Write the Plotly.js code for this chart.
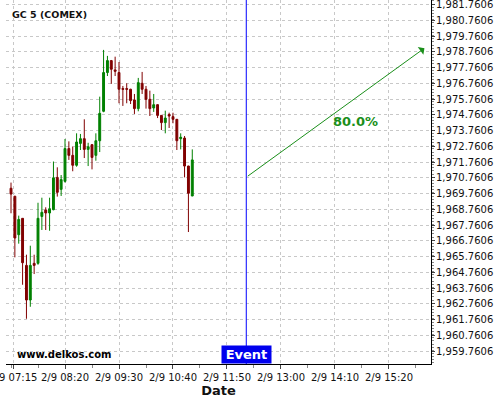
<!DOCTYPE html>
<html>
<head>
<meta charset="utf-8">
<script src="https://cdn.plot.ly/plotly-3.0.1.min.js"></script>
<style>html,body{margin:0;padding:0;background:#fff;}#chart{width:500px;height:400px;}</style>
</head>
<body>
<div id="chart"></div>
<script>
const times = [
 '2015-02-09 07:10','2015-02-09 07:15','2015-02-09 07:20','2015-02-09 07:25','2015-02-09 07:30','2015-02-09 07:35',
 '2015-02-09 07:40','2015-02-09 07:45','2015-02-09 07:50','2015-02-09 07:55','2015-02-09 08:00','2015-02-09 08:05',
 '2015-02-09 08:10','2015-02-09 08:15','2015-02-09 08:20','2015-02-09 08:25','2015-02-09 08:30','2015-02-09 08:35',
 '2015-02-09 08:40','2015-02-09 08:45','2015-02-09 08:50','2015-02-09 08:55','2015-02-09 09:00','2015-02-09 09:05',
 '2015-02-09 09:10','2015-02-09 09:15','2015-02-09 09:20','2015-02-09 09:25','2015-02-09 09:30','2015-02-09 09:35',
 '2015-02-09 09:40','2015-02-09 09:45','2015-02-09 09:50','2015-02-09 09:55','2015-02-09 10:00','2015-02-09 10:05',
 '2015-02-09 10:10','2015-02-09 10:15','2015-02-09 10:20','2015-02-09 10:25','2015-02-09 10:30','2015-02-09 10:35',
 '2015-02-09 10:40','2015-02-09 10:45','2015-02-09 10:50','2015-02-09 10:55','2015-02-09 11:00','2015-02-09 11:05'
];
const openP = [1970.10,1969.59,1967.15,1968.19,1965.20,1963.00,1965.33,1965.33,1968.31,1968.72,1968.53,1968.74,
 1970.79,1970.03,1970.54,1972.62,1972.19,1971.56,1972.95,1973.25,1972.57,1972.87,1972.19,1973.12,
 1974.99,1977.45,1978.21,1977.62,1977.45,1976.43,1976.43,1976.39,1975.71,1975.16,1976.77,1976.39,
 1975.75,1975.20,1975.41,1974.73,1974.27,1974.78,1974.65,1974.48,1973.25,1973.29,1971.51,1969.61];
const highP = [1970.46,1969.62,1968.36,1968.21,1965.88,1966.45,1965.88,1969.18,1969.50,1968.89,1969.50,1971.80,
 1971.43,1970.94,1973.23,1973.08,1972.74,1973.59,1973.55,1974.48,1972.99,1972.90,1973.59,1975.92,
 1978.89,1978.51,1978.25,1978.46,1978.12,1976.60,1976.77,1976.42,1976.09,1977.11,1977.49,1976.60,
 1976.30,1976.09,1975.43,1974.75,1975.03,1974.90,1974.90,1974.50,1973.59,1973.42,1971.53,1972.57];
const lowP = [1968.51,1965.71,1966.58,1963.97,1961.81,1962.57,1964.65,1965.24,1967.45,1967.45,1967.40,1968.70,
 1969.57,1969.61,1970.46,1971.90,1971.18,1971.47,1972.53,1972.02,1971.51,1971.30,1971.85,1972.40,
 1974.93,1977.23,1976.73,1977.23,1975.50,1975.33,1975.50,1975.45,1974.82,1974.99,1976.09,1975.16,
 1974.69,1974.95,1974.56,1973.80,1973.59,1973.93,1974.23,1972.53,1972.57,1970.79,1967.32,1969.60];
const closeP = [1969.73,1966.94,1968.12,1965.37,1963.00,1965.20,1965.20,1968.19,1968.57,1968.53,1968.80,1970.76,
 1969.84,1970.65,1972.62,1972.19,1971.56,1973.04,1973.25,1972.57,1972.74,1972.06,1973.12,1974.86,
 1977.45,1978.21,1977.66,1977.53,1976.39,1976.39,1976.39,1975.67,1975.16,1976.81,1976.39,1975.75,
 1975.16,1975.41,1974.73,1974.27,1974.56,1974.69,1974.48,1973.12,1973.34,1971.51,1969.78,1971.90];

const xTickVals = ['2015-02-09 07:13','2015-02-09 08:20','2015-02-09 09:30','2015-02-09 10:40',
 '2015-02-09 11:50','2015-02-09 13:00','2015-02-09 14:10','2015-02-09 15:20'];
const xTickText = ['2/9 07:15','2/9 08:20','2/9 09:30','2/9 10:40','2/9 11:50','2/9 13:00','2/9 14:10','2/9 15:20'];

const eventTime = '2015-02-09 12:15';
const arrowStart = ['2015-02-09 12:15', 1970.80];
const arrowEnd = ['2015-02-09 16:06', 1979.00];
const pctLabel = ['2015-02-09 14:36', 1974.37, '80.0%'];
const xRange = ['2015-02-09 07:03:30', '2015-02-09 16:14:30'];
const yRange = [1958.935, 1982.06];

const FONT = 'DejaVu Sans, Verdana, sans-serif';

const trace = {
  type: 'candlestick',
  x: times, open: openP, high: highP, low: lowP, close: closeP,
  increasing: {line: {color: '#008000', width: 1}, fillcolor: '#008000'},
  decreasing: {line: {color: '#800000', width: 1}, fillcolor: '#800000'},
  whiskerwidth: 0,
  showlegend: false,
  hoverinfo: 'none'
};

const layout = {
  width: 500, height: 400,
  margin: {l: 6, r: 69, t: 0, b: 36},
  paper_bgcolor: '#fff', plot_bgcolor: '#fff',
  font: {family: FONT, size: 10, color: '#111'},
  showlegend: false,
  xaxis: {
    type: 'date', range: xRange,
    rangeslider: {visible: false},
    tickmode: 'array', tickvals: xTickVals, ticktext: xTickText,
    tickangle: 0, ticklabeloverflow: 'allow',
    ticks: 'outside', ticklen: 4, tickcolor: '#444',
    showline: true, linecolor: '#000', linewidth: 1,
    showgrid: true, gridcolor: '#c8c8c8', griddash: '3px,3px', gridwidth: 1,
    minor: {tick0: '2015-02-09 08:20', dtick: 35*60*1000, ticks: 'outside', ticklen: 3, tickcolor: '#888', showgrid: false},
    zeroline: false,
    tickfont: {family: FONT, size: 10, color: '#111'},
    title: {text: 'Date', font: {family: FONT, size: 13, color: '#111', weight: 'bold'}, standoff: 1}
  },
  yaxis: {
    side: 'right', range: yRange,
    tick0: 1959.7606, dtick: 1, tickformat: ',.4f', ticklabeloverflow: 'allow',
    ticks: 'outside', ticklen: 3, tickcolor: '#444', ticklabelstandoff: -1,
    showline: true, linecolor: '#000', linewidth: 1,
    showgrid: true, gridcolor: '#c8c8c8', griddash: '3px,3px', gridwidth: 1,
    minor: {dtick: 0.2, ticks: 'outside', ticklen: 2, tickcolor: '#888', showgrid: false},
    zeroline: false,
    tickfont: {family: FONT, size: 10, color: '#111'}
  },
  shapes: [
    {type: 'line', xref: 'x', yref: 'paper', x0: eventTime, x1: eventTime, y0: 0, y1: 1,
     line: {color: '#0000ff', width: 1}}
  ],
  annotations: [
    {xref: 'x', yref: 'y', axref: 'x', ayref: 'y',
     x: arrowEnd[0], y: arrowEnd[1], ax: arrowStart[0], ay: arrowStart[1],
     text: '', showarrow: true, arrowhead: 1, arrowsize: 1.6, arrowwidth: 1, arrowcolor: '#1a8f1a'},
    {xref: 'x', yref: 'y', x: pctLabel[0], y: pctLabel[1], text: pctLabel[2], showarrow: false,
     font: {family: FONT, size: 13, color: '#1a8f1a', weight: 'bold'}},
    {xref: 'x', yref: 'paper', x: eventTime, y: 0, yanchor: 'bottom', xanchor: 'center',
     text: 'Event', showarrow: false, bgcolor: '#0000ee', borderpad: 1, width: 47, height: 15,
     font: {family: FONT, size: 13, color: '#fff', weight: 'bold'}},
    {xref: 'paper', yref: 'paper', x: 0.021, y: 0.027, xanchor: 'left', yanchor: 'middle',
     text: 'www.delkos.com', showarrow: false,
     font: {family: FONT, size: 10, color: '#000', weight: 'bold'}},
    {xref: 'paper', yref: 'paper', x: 0.0094, y: 0.959, xanchor: 'left', yanchor: 'middle',
     text: 'GC 5 (COMEX)', showarrow: false,
     font: {family: FONT, size: 9.5, color: '#111', weight: 'bold'}}
  ]
};

Plotly.newPlot('chart', [trace], layout, {staticPlot: true, displayModeBar: false});
</script>
</body>
</html>
